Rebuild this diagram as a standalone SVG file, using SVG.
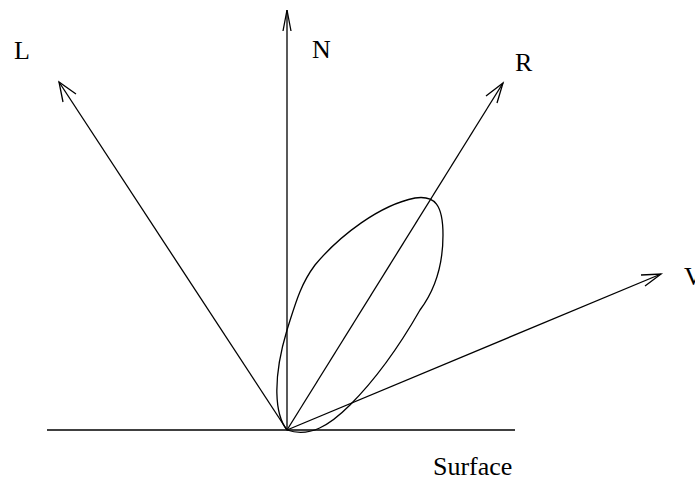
<svg xmlns="http://www.w3.org/2000/svg" width="695" height="481" viewBox="0 0 695 481">
<style>
.l{stroke:#000;stroke-width:1.3;fill:none}
.t{font-family:"Liberation Serif",serif;font-size:26px;fill:#000}
</style>
<rect width="695" height="481" fill="#fff"/>
<g id="surface"><line class="l" x1="47" y1="430" x2="515" y2="430"/><text class="t" x="433" y="475">Surface</text></g>
<g id="connectors">
<line class="l" x1="287" y1="430" x2="287" y2="10"/>
<path class="l" d="M283,31 L287,10 L291,31"/>
<line class="l" x1="287" y1="430" x2="59" y2="82"/>
<path class="l" d="M63,102 L59,82 L76,94"/>
<line class="l" x1="287" y1="430" x2="503" y2="83"/>
<path class="l" d="M486,96 L503,83 L497,103"/>
<line class="l" x1="287" y1="430" x2="661" y2="274"/>
<path class="l" d="M641,275 L661,274 L645,286"/>
</g>
<g id="lobe"><path class="l" d="M287,430 C275,415 272,380 287,330 C295,305 300,285 315,265 C340,235 380,205 415,198 C435,195 443,205 443,235 C443,265 435,290 420,310 C400,345 375,380 350,405 C330,425 310,438 287,430 Z"/></g>
<g id="L"><text class="t" x="14" y="59">L</text></g>
<g id="N"><text class="t" x="312" y="58">N</text></g>
<g id="R"><text class="t" x="515" y="71">R</text></g>
<g id="V"><text class="t" x="684" y="285">V</text></g>
</svg>
